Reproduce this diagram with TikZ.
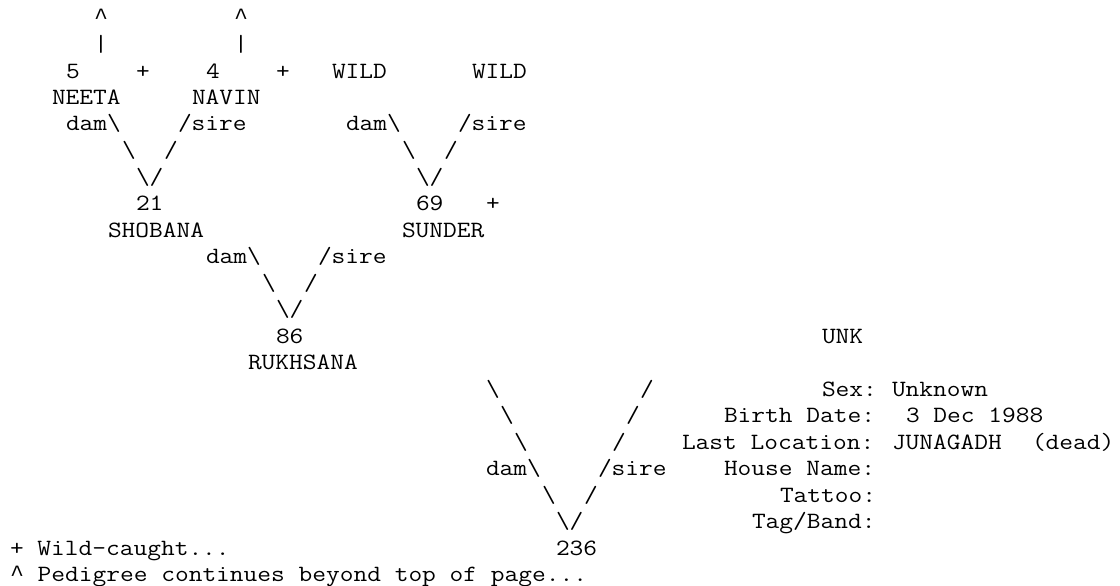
\documentclass[tikz,border=0pt]{standalone}
\usepackage{fontspec}
\newfontfamily\monofont{Latin Modern Mono}[FakeStretch=1.143]
\newfontfamily\caretfont{Liberation Mono}
\tikzset{
  txt/.style={anchor=base west, inner sep=0pt, outer sep=0pt,
    font=\monofont\fontsize{23.33}{26.5}\selectfont, text=black}
}
% name, column, row, text
\newcommand\Tx[4]{\node[txt] (#1) at ({10+14*#2},{-(25+26.5*#3)}) {#4};}
\newcommand\bs{\textbackslash}
\newcommand\ca{{\caretfont\textasciicircum}}
\begin{document}
\begin{tikzpicture}[x=1pt,y=1pt]
\useasboundingbox[fill=white] (0,0) rectangle (1120,-586);
% row 0-1: continuation marks
\Tx{upA}{6}{0}{\ca}
\Tx{upB}{16}{0}{\ca}
\Tx{barA}{6}{1}{|}
\Tx{barB}{16}{1}{|}
% row 2-3: great-grandparents
\Tx{n5}{4}{2}{5}
\Tx{plA}{9}{2}{+}
\Tx{n4}{14}{2}{4}
\Tx{plB}{19}{2}{+}
\Tx{wildA}{23}{2}{WILD}
\Tx{wildB}{33}{2}{WILD}
\Tx{neeta}{3}{3}{NEETA}
\Tx{navin}{13}{3}{NAVIN}
% row 4-6: connectors to 21 and 69
\Tx{damA}{4}{4}{dam\bs}
\Tx{sireA}{12}{4}{/sire}
\Tx{damB}{24}{4}{dam\bs}
\Tx{sireB}{32}{4}{/sire}
\Tx{lA}{8}{5}{\bs}
\Tx{rA}{11}{5}{/}
\Tx{lB}{28}{5}{\bs}
\Tx{rB}{31}{5}{/}
\Tx{vA}{9}{6}{\bs/}
\Tx{vB}{29}{6}{\bs/}
% row 7-8: grandparents
\Tx{n21}{9}{7}{21}
\Tx{n69}{29}{7}{69}
\Tx{plC}{34}{7}{+}
\Tx{shobana}{7}{8}{SHOBANA}
\Tx{sunder}{28}{8}{SUNDER}
% row 9-11: connectors to 86
\Tx{damC}{14}{9}{dam\bs}
\Tx{sireC}{22}{9}{/sire}
\Tx{lC}{18}{10}{\bs}
\Tx{rC}{21}{10}{/}
\Tx{vC}{19}{11}{\bs/}
% row 12-13: parents
\Tx{n86}{19}{12}{86}
\Tx{unk}{58}{12}{UNK}
\Tx{rukhsana}{17}{13}{RUKHSANA}
% rows 14-19: connectors to 236 and details
\Tx{lD1}{34}{14}{\bs}
\Tx{rD1}{45}{14}{/}
\Tx{sexL}{58}{14}{Sex:}
\Tx{sexV}{63}{14}{Unknown}
\Tx{lD2}{35}{15}{\bs}
\Tx{rD2}{44}{15}{/}
\Tx{birthL}{51}{15}{Birth Date:}
\Tx{birthV}{64}{15}{3 Dec 1988}
\Tx{lD3}{36}{16}{\bs}
\Tx{rD3}{43}{16}{/}
\Tx{locL}{48}{16}{Last Location:}
\Tx{locV}{63}{16}{JUNAGADH}
\Tx{locD}{73}{16}{(dead)}
\Tx{damD}{34}{17}{dam\bs}
\Tx{sireD}{42}{17}{/sire}
\Tx{houseL}{51}{17}{House Name:}
\Tx{lD4}{38}{18}{\bs}
\Tx{rD4}{41}{18}{/}
\Tx{tatL}{55}{18}{Tattoo:}
\Tx{vD}{39}{19}{\bs/}
\Tx{tagL}{53}{19}{Tag/Band:}
% row 20-21: subject and legend
\Tx{legA}{0}{20}{+ Wild-caught...}
\Tx{n236}{39}{20}{236}
\Tx{legB}{0}{21}{\ca{} Pedigree continues beyond top of page...}
\end{tikzpicture}
\end{document}
